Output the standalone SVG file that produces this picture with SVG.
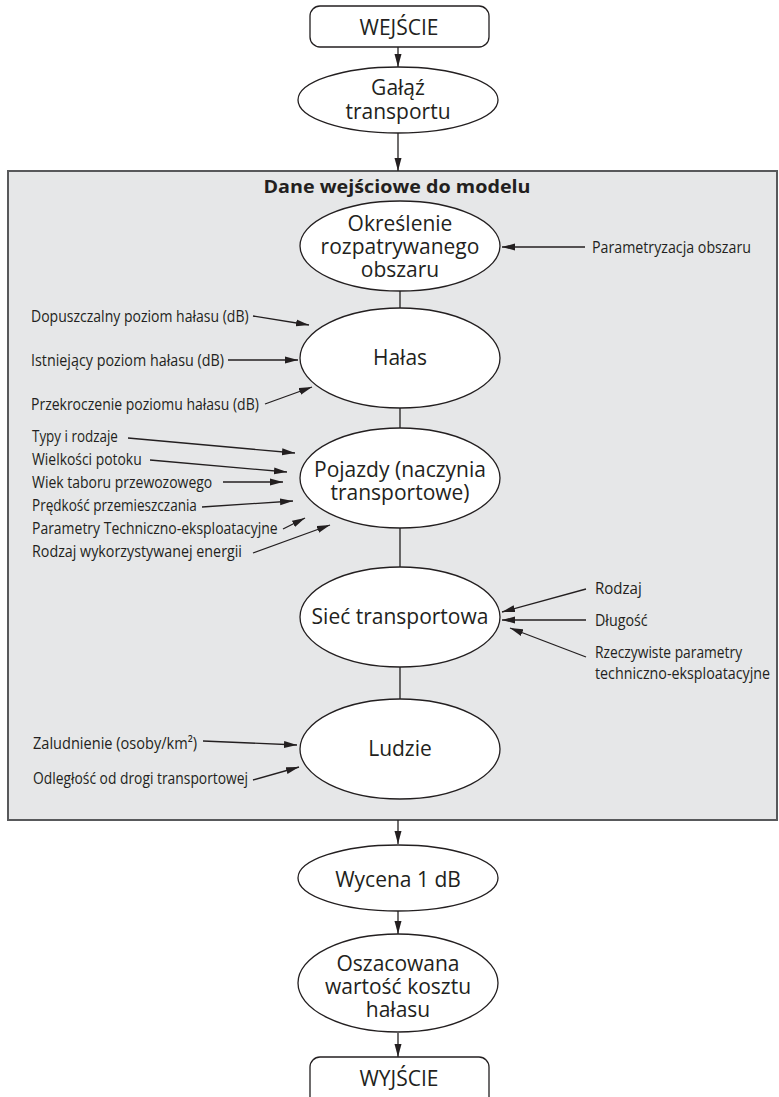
<svg xmlns="http://www.w3.org/2000/svg" width="779" height="1097" viewBox="0 0 779 1097">
<style>
.node{fill:#fff;stroke:#231f20;stroke-width:1.3}
.t{font-family:"Open Sans","Noto Sans",sans-serif;font-size:21px;fill:#231f20;text-anchor:middle}
.lbl{font-family:"Open Sans","Noto Sans",sans-serif;font-size:17px;fill:#231f20}
.ttl{font-family:"Open Sans","Noto Sans",sans-serif;font-size:18px;font-weight:bold;fill:#231f20;text-anchor:middle}
.c{stroke:#231f20;stroke-width:1.3;fill:none}
.a{marker-end:url(#ah)}
</style>
<defs>
<marker id="ah" markerUnits="userSpaceOnUse" markerWidth="14" markerHeight="8" refX="13" refY="4" orient="auto"><path d="M0,0.5 L13,4 L0,7.5 Z" fill="#231f20"/></marker>
</defs>

<g id="panel">
<rect x="8" y="171" width="769" height="649" fill="#e6e7e8" stroke="#58595b" stroke-width="2"/>
<text class="ttl" x="397" y="193" textLength="267" lengthAdjust="spacingAndGlyphs">Dane wejściowe do modelu</text>
</g>

<g id="connectors">
<line class="c a" x1="398" y1="47" x2="398" y2="67"/>
<line class="c a" x1="398" y1="133" x2="398" y2="171"/>
<line class="c" x1="400" y1="291" x2="400" y2="308"/>
<line class="c" x1="400" y1="408" x2="400" y2="428"/>
<line class="c" x1="400" y1="528" x2="400" y2="567"/>
<line class="c" x1="400" y1="667" x2="400" y2="699"/>
<line class="c a" x1="398" y1="820" x2="398" y2="844"/>
<line class="c a" x1="398" y1="911" x2="398" y2="934"/>
<line class="c a" x1="398" y1="1033" x2="398" y2="1057"/>
<line class="c a" x1="585" y1="247" x2="502" y2="247"/>
<line class="c a" x1="253" y1="316" x2="309" y2="325"/>
<line class="c a" x1="228" y1="360" x2="298" y2="360"/>
<line class="c a" x1="265" y1="404" x2="312" y2="387"/>
<line class="c a" x1="128" y1="438" x2="295" y2="453"/>
<line class="c a" x1="150" y1="460" x2="287" y2="472"/>
<line class="c a" x1="223" y1="482" x2="283" y2="482"/>
<line class="c a" x1="202" y1="507" x2="293" y2="501"/>
<line class="c a" x1="283" y1="529" x2="305" y2="518"/>
<line class="c a" x1="253" y1="553" x2="330" y2="525"/>
<line class="c a" x1="586" y1="589" x2="502" y2="612"/>
<line class="c a" x1="586" y1="620" x2="502" y2="620"/>
<line class="c a" x1="586" y1="657" x2="510" y2="628"/>
<line class="c a" x1="203" y1="741" x2="297" y2="745"/>
<line class="c a" x1="253" y1="780" x2="299" y2="767"/>
</g>

<g id="wejscie">
<rect class="node" x="310" y="6" width="179" height="41" rx="10"/>
<text class="t" x="399" y="35">WEJŚCIE</text>
</g>
<g id="galaz">
<ellipse class="node" cx="398" cy="100" rx="100" ry="33"/>
<text class="t" x="398" y="95"><tspan x="398">Gałąź</tspan><tspan x="398" dy="24">transportu</tspan></text>
</g>
<g id="okreslenie">
<ellipse class="node" cx="400" cy="246" rx="100" ry="45"/>
<text class="t" x="400" y="231"><tspan x="400">Określenie</tspan><tspan x="400" dy="23">rozpatrywanego</tspan><tspan x="400" dy="23">obszaru</tspan></text>
</g>
<g id="halas">
<ellipse class="node" cx="400" cy="358" rx="100" ry="50"/>
<text class="t" x="400" y="365">Hałas</text>
</g>
<g id="pojazdy">
<ellipse class="node" cx="400" cy="478" rx="100" ry="50"/>
<text class="t" x="400" y="477"><tspan x="400">Pojazdy (naczynia</tspan><tspan x="400" dy="23">transportowe)</tspan></text>
</g>
<g id="siec">
<ellipse class="node" cx="400" cy="617" rx="100" ry="50"/>
<text class="t" x="400" y="624">Sieć transportowa</text>
</g>
<g id="ludzie">
<ellipse class="node" cx="400" cy="749" rx="100" ry="50"/>
<text class="t" x="400" y="756">Ludzie</text>
</g>
<g id="wycena">
<ellipse class="node" cx="398" cy="878" rx="100" ry="33"/>
<text class="t" x="398" y="887">Wycena 1 dB</text>
</g>
<g id="oszacowana">
<ellipse class="node" cx="398" cy="983" rx="100" ry="49"/>
<text class="t" x="398" y="971"><tspan x="398">Oszacowana</tspan><tspan x="398" dy="23">wartość kosztu</tspan><tspan x="398" dy="23">hałasu</tspan></text>
</g>
<g id="wyjscie">
<path class="node" d="M310,1100 V1067 a10,10 0 0 1 10,-10 H479 a10,10 0 0 1 10,10 V1100"/>
<text class="t" x="399" y="1086">WYJŚCIE</text>
</g>

<g id="labels">
<text class="lbl" transform="translate(592,253) scale(0.85,1)" textLength="187" lengthAdjust="spacingAndGlyphs">Parametryzacja obszaru</text>
<text class="lbl" transform="translate(31,322) scale(0.85,1)" textLength="256" lengthAdjust="spacingAndGlyphs">Dopuszczalny poziom hałasu (dB)</text>
<text class="lbl" transform="translate(31,366) scale(0.85,1)" textLength="227" lengthAdjust="spacingAndGlyphs">Istniejący poziom hałasu (dB)</text>
<text class="lbl" transform="translate(31,410) scale(0.85,1)" textLength="268" lengthAdjust="spacingAndGlyphs">Przekroczenie poziomu hałasu (dB)</text>
<text class="lbl" transform="translate(32,442) scale(0.85,1)" textLength="101" lengthAdjust="spacingAndGlyphs">Typy i rodzaje</text>
<text class="lbl" transform="translate(32,465) scale(0.85,1)" textLength="129" lengthAdjust="spacingAndGlyphs">Wielkości potoku</text>
<text class="lbl" transform="translate(32,488) scale(0.85,1)" textLength="212" lengthAdjust="spacingAndGlyphs">Wiek taboru przewozowego</text>
<text class="lbl" transform="translate(32,511) scale(0.85,1)" textLength="194" lengthAdjust="spacingAndGlyphs">Prędkość przemieszczania</text>
<text class="lbl" transform="translate(32,534) scale(0.85,1)" textLength="289" lengthAdjust="spacingAndGlyphs">Parametry Techniczno-eksploatacyjne</text>
<text class="lbl" transform="translate(32,557) scale(0.85,1)" textLength="247" lengthAdjust="spacingAndGlyphs">Rodzaj wykorzystywanej energii</text>
<text class="lbl" transform="translate(595,594) scale(0.85,1)" textLength="55" lengthAdjust="spacingAndGlyphs">Rodzaj</text>
<text class="lbl" transform="translate(595,626) scale(0.85,1)" textLength="62" lengthAdjust="spacingAndGlyphs">Długość</text>
<text class="lbl" transform="translate(595,658) scale(0.85,1)" textLength="173" lengthAdjust="spacingAndGlyphs">Rzeczywiste parametry</text>
<text class="lbl" transform="translate(595,679) scale(0.85,1)" textLength="206" lengthAdjust="spacingAndGlyphs">techniczno-eksploatacyjne</text>
<text class="lbl" transform="translate(33,749) scale(0.85,1)" textLength="193" lengthAdjust="spacingAndGlyphs">Zaludnienie (osoby/km²)</text>
<text class="lbl" transform="translate(33,784) scale(0.85,1)" textLength="253" lengthAdjust="spacingAndGlyphs">Odległość od drogi transportowej</text>
</g>
</svg>
